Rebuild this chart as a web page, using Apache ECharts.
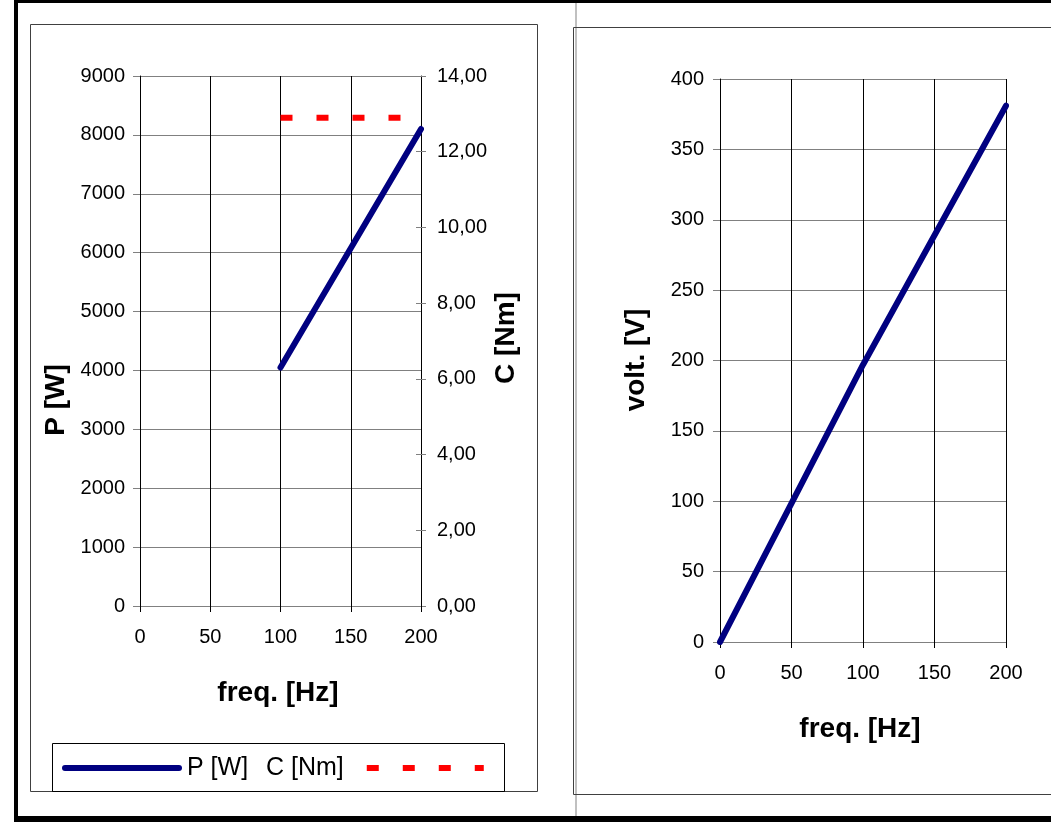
<!DOCTYPE html>
<html>
<head>
<meta charset="utf-8">
<script src="https://cdn.jsdelivr.net/npm/echarts@6/dist/echarts.min.js"></script>
<style>
html,body{margin:0;padding:0;background:#fff;}
#chart{width:1051px;height:831px;}
</style>
</head>
<body>
<div id="chart"></div>
<script>
// ---- data ----
const freqTicks = [0, 50, 100, 150, 200];
const powerTicks = [0, 1000, 2000, 3000, 4000, 5000, 6000, 7000, 8000, 9000];
const torqueTicks = [0, 2, 4, 6, 8, 10, 12, 14];
const voltTicks = [0, 50, 100, 150, 200, 250, 300, 350, 400];

const freqP = [100, 150, 200];
const powerW = [4050, 6075, 8100];
const freqC = [100, 150, 200];
const torqueNm = [12.9, 12.9, 12.9];
const freqV = [0, 100, 200];
const voltV = [0, 197, 381];

const seriesNames = ['P [W]', 'C [Nm]', 'volt. [V]'];

// ---- styles ----
const FONT = 'Liberation Sans, Arial, sans-serif';
const NAVY = '#000080';
const RED = '#ff0000';
const GRID_GRAY = '#808080';
const TITLE_FONT = 'bold 28px ' + FONT;

function stepOf(t){ return t[1] - t[0]; }
function pairs(xs, ys){ return xs.map((x, i) => [x, ys[i]]); }
const plain = v => String(v);

const labelStyle = { color: '#000', fontFamily: FONT, fontSize: 20 };

const chart = echarts.init(document.getElementById('chart'), null, { renderer: 'canvas' });

const option = {
  animation: false,
  backgroundColor: '#fff',
  grid: [
    { left: 140, top: 76, width: 281, height: 530, containLabel: false },
    { left: 720, top: 79, width: 286, height: 563, containLabel: false }
  ],
  xAxis: [
    {
      type: 'value', gridIndex: 0,
      min: freqTicks[0], max: freqTicks[freqTicks.length - 1], interval: stepOf(freqTicks),
      axisLine: { show: true, onZero: false, lineStyle: { color: GRID_GRAY, width: 1 } },
      axisTick: { show: true, inside: false, length: 6, lineStyle: { color: '#000' } },
      axisLabel: Object.assign({ margin: 21, formatter: plain }, labelStyle),
      splitLine: { show: true, lineStyle: { color: '#000', width: 1 } }
    },
    {
      type: 'value', gridIndex: 1,
      min: freqTicks[0], max: freqTicks[freqTicks.length - 1], interval: stepOf(freqTicks),
      axisLine: { show: true, onZero: false, lineStyle: { color: GRID_GRAY, width: 1 } },
      axisTick: { show: true, inside: false, length: 6, lineStyle: { color: '#000' } },
      axisLabel: Object.assign({ margin: 21, formatter: plain }, labelStyle),
      splitLine: { show: true, lineStyle: { color: '#000', width: 1 } }
    }
  ],
  yAxis: [
    {
      type: 'value', gridIndex: 0, position: 'left',
      min: powerTicks[0], max: powerTicks[powerTicks.length - 1], interval: stepOf(powerTicks),
      axisLine: { show: true, lineStyle: { color: '#000', width: 1 } },
      axisTick: { show: true, inside: false, length: 7, lineStyle: { color: GRID_GRAY } },
      axisLabel: Object.assign({ margin: 15, formatter: plain }, labelStyle),
      splitLine: { show: true, lineStyle: { color: GRID_GRAY, width: 1 } }
    },
    {
      type: 'value', gridIndex: 0, position: 'right',
      min: torqueTicks[0], max: torqueTicks[torqueTicks.length - 1], interval: stepOf(torqueTicks),
      axisLine: { show: true, lineStyle: { color: '#000', width: 1 } },
      axisTick: { show: true, inside: false, length: 5, lineStyle: { color: GRID_GRAY } },
      axisLabel: Object.assign({ margin: 16, formatter: v => v.toFixed(2).replace('.', ',') }, labelStyle),
      splitLine: { show: false }
    },
    {
      type: 'value', gridIndex: 0, position: 'right',
      min: torqueTicks[0], max: torqueTicks[torqueTicks.length - 1], interval: stepOf(torqueTicks),
      axisLine: { show: false },
      axisTick: { show: true, inside: true, length: 5, lineStyle: { color: GRID_GRAY } },
      axisLabel: { show: false },
      splitLine: { show: false }
    },
    {
      type: 'value', gridIndex: 1, position: 'left',
      min: voltTicks[0], max: voltTicks[voltTicks.length - 1], interval: stepOf(voltTicks),
      axisLine: { show: true, lineStyle: { color: '#000', width: 1 } },
      axisTick: { show: true, inside: false, length: 7, lineStyle: { color: GRID_GRAY } },
      axisLabel: Object.assign({ margin: 16, formatter: plain }, labelStyle),
      splitLine: { show: true, lineStyle: { color: GRID_GRAY, width: 1 } }
    }
  ],
  legend: [
    {
      data: [seriesNames[0]],
      left: 62, top: 753, padding: 0, itemGap: 0,
      itemWidth: 120, itemHeight: 6,
      icon: 'path://M3,0H117A3,3,0,0,1,117,6H3A3,3,0,0,1,3,0Z',
      selectedMode: false,
      textStyle: { color: '#000', fontFamily: FONT, fontSize: 25, lineHeight: 30 }
    },
    {
      data: [seriesNames[1]],
      left: 266, top: 753, padding: 0, itemGap: 0, align: 'right',
      itemWidth: 117, itemHeight: 6,
      icon: 'path://M0,0H12V6H0Z M36,0H48V6H36Z M72,0H84V6H72Z M108,0H117V6H108Z',
      selectedMode: false,
      textStyle: { color: '#000', fontFamily: FONT, fontSize: 25, lineHeight: 30, padding: [0, 18, 0, 0] }
    }
  ],
  series: [
    {
      name: seriesNames[0], type: 'line', xAxisIndex: 0, yAxisIndex: 0,
      data: pairs(freqP, powerW), symbol: 'none', color: NAVY,
      lineStyle: { color: NAVY, width: 6, cap: 'round', join: 'round' }, z: 3
    },
    {
      name: seriesNames[1], type: 'line', xAxisIndex: 0, yAxisIndex: 1,
      data: pairs(freqC, torqueNm), symbol: 'none', color: RED,
      lineStyle: { color: RED, width: 6, type: [12, 24], cap: 'butt' }, z: 3
    },
    {
      name: seriesNames[2], type: 'line', xAxisIndex: 1, yAxisIndex: 3,
      data: pairs(freqV, voltV), symbol: 'none', color: NAVY,
      lineStyle: { color: NAVY, width: 6, cap: 'round', join: 'round' }, z: 3
    }
  ],
  graphic: [
    // page frame
    { type: 'rect', shape: { x: 14, y: 0, width: 1037, height: 3 }, style: { fill: '#000' }, silent: true },
    { type: 'rect', shape: { x: 14, y: 0, width: 4, height: 822 }, style: { fill: '#000' }, silent: true },
    { type: 'rect', shape: { x: 14, y: 816, width: 1037, height: 6 }, style: { fill: '#000' }, silent: true },
    { type: 'rect', shape: { x: 575, y: 3, width: 2, height: 813 }, style: { fill: '#c0c0c0' }, silent: true },
    // chart boxes
    { type: 'rect', shape: { x: 30.5, y: 24.5, width: 507, height: 767 }, style: { fill: 'none', stroke: '#404040', lineWidth: 1 }, silent: true },
    { type: 'rect', shape: { x: 573.5, y: 27.5, width: 600, height: 767 }, style: { fill: 'none', stroke: '#404040', lineWidth: 1 }, silent: true },
    // legend box
    { type: 'rect', shape: { x: 52.5, y: 743.5, width: 452, height: 48 }, style: { fill: 'none', stroke: '#000', lineWidth: 1 }, silent: true },
    // axis titles
    { type: 'text', x: 56, y: 400, rotation: Math.PI / 2, silent: true,
      style: { text: 'P [W]', font: TITLE_FONT, fill: '#000', align: 'center', verticalAlign: 'middle' } },
    { type: 'text', x: 506, y: 338, rotation: Math.PI / 2, silent: true,
      style: { text: 'C [Nm]', font: TITLE_FONT, fill: '#000', align: 'center', verticalAlign: 'middle' } },
    { type: 'text', x: 278, y: 693, silent: true,
      style: { text: 'freq. [Hz]', font: TITLE_FONT, fill: '#000', align: 'center', verticalAlign: 'middle' } },
    { type: 'text', x: 636, y: 360, rotation: Math.PI / 2, silent: true,
      style: { text: 'volt. [V]', font: TITLE_FONT, fill: '#000', align: 'center', verticalAlign: 'middle' } },
    { type: 'text', x: 860, y: 729, silent: true,
      style: { text: 'freq. [Hz]', font: TITLE_FONT, fill: '#000', align: 'center', verticalAlign: 'middle' } }
  ]
};

chart.setOption(option);
</script>
</body>
</html>
